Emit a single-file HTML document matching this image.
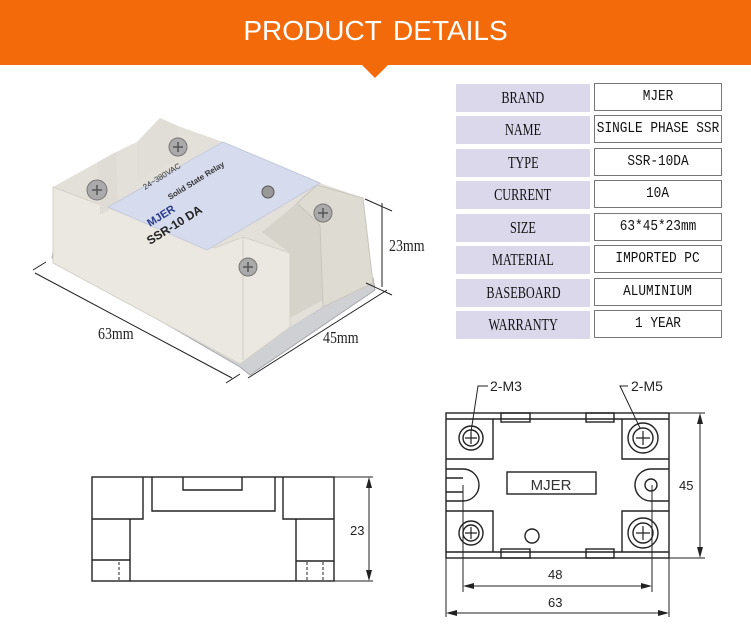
<!DOCTYPE html>
<html><head><meta charset="utf-8"><style>
html,body{margin:0;padding:0;background:#fff;}
body{width:751px;height:624px;overflow:hidden;position:relative;font-family:"Liberation Sans",sans-serif;}
.hdr{position:absolute;left:0;top:0;width:751px;height:65px;background:#f26a0a;}
.tri{position:absolute;left:361px;top:64px;width:0;height:0;border-left:14px solid transparent;border-right:14px solid transparent;border-top:14px solid #f26a0a;}
.title{position:absolute;left:0;top:15px;width:751px;text-align:center;color:#fff;font-size:28px;word-spacing:4px;}
.lab{position:absolute;left:456px;width:134px;height:28px;background:#dcd8ec;font-family:"Liberation Serif",serif;font-size:17px;line-height:28px;text-align:center;color:#111;white-space:nowrap;}
.lab span{display:inline-block;transform:scaleX(0.72);margin:0 -30px;}
.val span{display:inline-block;transform:scaleX(0.85);margin:0 -30px;}
.val{position:absolute;left:594px;width:126px;height:26px;border:1px solid #777;background:#fff;font-family:"Liberation Mono",monospace;font-size:15px;line-height:26px;text-align:center;color:#111;white-space:nowrap;}
</style></head><body>
<div class="hdr"></div><div class="tri"></div>
<div class="title">PRODUCT DETAILS</div>

<div class="lab" style="top:84px"><span>BRAND</span></div><div class="val" style="top:83px"><span>MJER</span></div>
<div class="lab" style="top:116px"><span>NAME</span></div><div class="val" style="top:115px"><span>SINGLE PHASE SSR</span></div>
<div class="lab" style="top:149px"><span>TYPE</span></div><div class="val" style="top:148px"><span>SSR-10DA</span></div>
<div class="lab" style="top:181px"><span>CURRENT</span></div><div class="val" style="top:180px"><span>10A</span></div>
<div class="lab" style="top:214px"><span>SIZE</span></div><div class="val" style="top:213px"><span>63*45*23mm</span></div>
<div class="lab" style="top:246px"><span>MATERIAL</span></div><div class="val" style="top:245px"><span>IMPORTED PC</span></div>
<div class="lab" style="top:279px"><span>BASEBOARD</span></div><div class="val" style="top:278px"><span>ALUMINIUM</span></div>
<div class="lab" style="top:311px"><span>WARRANTY</span></div><div class="val" style="top:310px"><span>1 YEAR</span></div>

<svg style="position:absolute;left:0;top:0" width="751" height="624" viewBox="0 0 751 624">
<!-- photo relay -->
<polygon points="52,258 240,367 250,375 375,290 373,278 240,355 53,252" fill="#cfd0d4" stroke="#a8a8ae" stroke-width="1"/>
<polygon points="53,187 98,162 116,152 137,142 160,118 178,126 223,142 320,183 363,198 373,283 323,307 290,327 240,364 53,263" fill="#e2e0d8"/>
<polygon points="262,232 297,203 320,225 323,300 290,318 290,253" fill="#d6d4ca"/>
<polygon points="320,225 297,203 317,185 363,198 373,283 323,307" fill="#dddbd2" stroke="#c8c6bc"/>
<polygon points="53,187 215,248 243,237 290,253 290,327 240,364 53,263" fill="#eae8e0" stroke="#d4d2c8"/>
<line x1="243" y1="237" x2="243" y2="360" stroke="#d0cec4"/>
<polygon points="98,162 100,215 118,205 116,152" fill="#dedcd4"/>
<polygon points="137,142 137,180 178,160 178,126 160,118" fill="#e0ded6"/>
<polygon points="108,207 223,142 320,183 207,250" fill="#d6dcee" stroke="#c4cadc"/>
<text x="150" y="227" font-size="11" font-weight="bold" fill="#2a3a8a" transform="rotate(-32 150 227)">MJER</text>
<text x="150" y="245" font-size="12" font-weight="bold" fill="#222" transform="rotate(-32 150 245)">SSR-10 DA</text>
<text x="145" y="190" font-size="8" fill="#333" transform="rotate(-32 145 190)">24~380VAC</text>
<text x="170" y="200" font-size="8" font-weight="bold" fill="#333" transform="rotate(-32 170 200)">Solid State Relay</text>
<circle cx="97" cy="190" r="10" fill="#aaa" stroke="#777"/><path d="M92 190h10M97 185v10" stroke="#555" stroke-width="1.5"/>
<circle cx="178" cy="147" r="9" fill="#aaa" stroke="#777"/><path d="M173 147h10M178 142v10" stroke="#555" stroke-width="1.5"/>
<circle cx="248" cy="267" r="9" fill="#aaa" stroke="#777"/><path d="M243 267h10M248 262v10" stroke="#555" stroke-width="1.5"/>
<circle cx="323" cy="213" r="9" fill="#aaa" stroke="#777"/><path d="M318 213h10M323 208v10" stroke="#555" stroke-width="1.5"/>
<circle cx="268" cy="192" r="6" fill="#999" stroke="#555"/>
<!-- photo dims -->
<g stroke="#222" stroke-width="1" fill="none">
<line x1="382" y1="203" x2="382" y2="287"/><line x1="365" y1="199" x2="392" y2="211"/><line x1="366" y1="283" x2="392" y2="295"/>
<line x1="35" y1="273" x2="232" y2="378"/><line x1="33" y1="270" x2="46" y2="262"/><line x1="226" y1="383" x2="240" y2="374"/>
<line x1="248" y1="378" x2="387" y2="290"/>
</g>
<g font-family="Liberation Serif,serif" font-size="17" fill="#222">
<text x="389" y="251" transform="scale(0.82 1)" transform-origin="389 251">23mm</text>
<text x="98" y="339" transform="scale(0.82 1)" transform-origin="98 339">63mm</text>
<text x="323" y="343" transform="scale(0.82 1)" transform-origin="323 343">45mm</text>
</g>

<!-- left view drawing -->
<g stroke="#222" stroke-width="1.4" fill="none">
<rect x="92" y="477" width="242" height="104"/>
<polyline points="92,519 143,519 143,477"/>
<polyline points="152,477 152,511 275,511 275,477"/>
<polyline points="183,477 183,490 242,490 242,477"/>
<polyline points="334,519 283,519 283,477"/>
<line x1="130" y1="519" x2="130" y2="581"/><line x1="92" y1="560" x2="130" y2="560"/>
<line x1="296" y1="519" x2="296" y2="581"/><line x1="296" y1="561" x2="334" y2="561"/>
</g>
<g stroke="#222" stroke-width="1" fill="none">
<line x1="119" y1="562" x2="119" y2="581" stroke-dasharray="3,2"/>
<line x1="307" y1="562" x2="307" y2="581" stroke-dasharray="3,2"/>
<line x1="323" y1="562" x2="323" y2="581" stroke-dasharray="3,2"/>
<line x1="334" y1="477" x2="373" y2="477"/><line x1="334" y1="581" x2="373" y2="581"/>
<line x1="369" y1="480" x2="369" y2="578"/>
</g>
<polygon points="369,477 366,488 372,488" fill="#222"/><polygon points="369,581 366,570 372,570" fill="#222"/>
<text x="350" y="535" font-size="13" fill="#222">23</text>

<!-- right view drawing -->
<g stroke="#222" stroke-width="1.4" fill="none">
<rect x="446" y="413" width="223" height="145"/>
<line x1="446" y1="419" x2="669" y2="419"/><line x1="446" y1="552" x2="669" y2="552"/>
<rect x="501" y="413" width="29" height="9"/><rect x="586" y="413" width="28" height="9"/>
<rect x="501" y="549" width="29" height="9"/><rect x="586" y="549" width="28" height="9"/>
<polyline points="446,459 493,459 493,419"/><polyline points="669,459 622,459 622,419"/>
<polyline points="446,511 493,511 493,552"/><polyline points="669,511 622,511 622,552"/>
<path d="M446,469 H463 A16,16 0 0 1 463,501 H446"/>
<path d="M669,469 H651 A16,16 0 0 0 651,501 H669"/>
<line x1="446" y1="478" x2="463" y2="478"/><line x1="446" y1="492" x2="463" y2="492"/>
<circle cx="651" cy="485" r="6"/>
<circle cx="532" cy="536" r="7"/>
<rect x="507" y="472" width="89" height="22"/>
<circle cx="471" cy="438" r="12"/><circle cx="471" cy="438" r="8"/>
<circle cx="471" cy="533" r="12"/><circle cx="471" cy="533" r="8"/>
<circle cx="643" cy="438" r="15"/><circle cx="643" cy="438" r="10"/>
<circle cx="643" cy="533" r="15"/><circle cx="643" cy="533" r="10"/>
</g>
<g stroke="#222" stroke-width="1.2">
<path d="M465 438h12M471 432v12M465 533h12M471 527v12M636 438h14M643 431v14M636 533h14M643 526v14"/>
</g>
<text x="551" y="490" font-size="15" text-anchor="middle" fill="#333">MJER</text>
<g stroke="#222" stroke-width="1" fill="none">
<polyline points="488,386 478,386 471,432"/>
<polyline points="628,386 620,386 640,428"/>
<line x1="669" y1="413" x2="705" y2="413"/><line x1="669" y1="558" x2="705" y2="558"/>
<line x1="700" y1="416" x2="700" y2="555"/>
<line x1="463" y1="485" x2="463" y2="592"/><line x1="652" y1="485" x2="652" y2="592"/>
<line x1="466" y1="586" x2="649" y2="586"/>
<line x1="446" y1="558" x2="446" y2="617"/><line x1="669" y1="558" x2="669" y2="617"/>
<line x1="449" y1="613" x2="666" y2="613"/>
</g>
<g fill="#222">
<polygon points="700,413 697,424 703,424"/><polygon points="700,558 697,547 703,547"/>
<polygon points="463,586 474,583 474,589"/><polygon points="652,586 641,583 641,589"/>
<polygon points="446,613 457,610 457,616"/><polygon points="669,613 658,610 658,616"/>
</g>
<g font-size="14" fill="#222">
<text x="490" y="391">2-M3</text><text x="631" y="391">2-M5</text>
</g>
<g font-size="13" fill="#222">
<text x="679" y="490">45</text><text x="548" y="579">48</text><text x="548" y="607">63</text>
</g>
</svg>
</body></html>
